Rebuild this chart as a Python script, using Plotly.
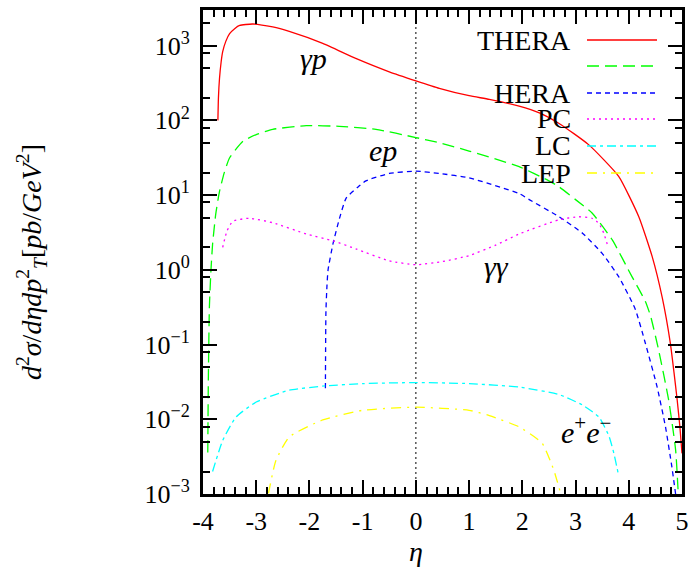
import plotly.graph_objects as go

# ---------------- data ----------------
thera_eta = [-3.72, -3.71, -3.69, -3.66, -3.63, -3.57, -3.50, -3.40, -3.31, -3.07, -2.69, -2.38,
             -1.75, -1.13, -0.5, 0.0, 0.44, 1.0, 1.38, 1.94, 2.32, 2.69, 3.25, 3.81, 4.19,
             4.44, 4.63, 4.78, 4.85, 4.91, 4.96, 5.0]
thera_val = [100, 200, 363, 600, 832, 1150, 1445, 1700, 1862, 1950, 1778, 1549,
             1072, 676, 447, 339, 269, 214, 191, 155, 126, 91, 47, 17.8, 5.1,
             1.5, 0.42, 0.105, 0.042, 0.018, 0.008, 0.0035]

ep_eta = [-3.91, -3.90, -3.88, -3.85, -3.82, -3.76, -3.69, -3.60, -3.50, -3.25, -3.0, -2.69,
          -2.06, -1.44, -0.75, 0.0, 0.44, 1.0, 1.94, 2.5, 2.69, 3.0, 3.31, 3.69, 4.06, 4.31,
          4.41, 4.56, 4.75, 4.88, 4.93]
ep_val = [0.0036, 0.032, 0.32, 1.0, 2.2, 5.6, 11.2, 20, 31.6, 52.5, 64.6, 75.9,
          85.1, 83.2, 75.9, 58.9, 50.1, 38.9, 24.0, 15.5, 12.9, 8.7, 5.75, 2.51, 0.81, 0.38,
          0.24, 0.085, 0.018, 0.0039, 0.001]

hera_eta = [-1.70, -1.69, -1.67, -1.65, -1.56, -1.45, -1.31, -1.10, -0.94, -0.5, 0.0, 0.44,
            1.0, 1.94, 2.13, 2.69, 3.13, 3.50, 3.81, 4.12, 4.31, 4.53, 4.69, 4.81, 4.88]
hera_val = [0.026, 0.28, 0.63, 1.0, 2.19, 4.47, 9.12, 12.6, 15.5, 19.5, 20.9, 19.5,
            17.0, 10.5, 8.7, 5.13, 3.09, 1.66, 0.81, 0.30, 0.105, 0.0275, 0.0079, 0.0023, 0.001]

pc_eta = [-3.63, -3.55, -3.44, -3.13, -2.69, -2.06, -1.56, -1.13, -0.5, 0.0, 0.5, 1.0,
          1.5, 1.94, 2.69, 3.06, 3.31, 3.44, 3.53, 3.61]
pc_val = [2.0, 3.3, 4.47, 4.9, 4.27, 3.02, 2.45, 1.91, 1.32, 1.17, 1.29, 1.55,
          2.14, 3.02, 4.68, 5.13, 4.9, 4.17, 3.09, 2.04]

lc_eta = [-3.82, -3.63, -3.38, -3.0, -2.38, -1.69, -1.0, 0.0, 1.0, 1.94, 2.69, 3.13,
          3.44, 3.63, 3.72, 3.80]
lc_val = [0.0020, 0.0052, 0.0107, 0.017, 0.0245, 0.028, 0.030, 0.031, 0.030, 0.027, 0.0214, 0.0155,
          0.0107, 0.0059, 0.0035, 0.0019]

lep_eta = [-2.77, -2.63, -2.38, -1.75, -1.0, 0.0, 1.0, 1.38, 1.94, 2.37, 2.59, 2.72]
lep_val = [0.00102, 0.0028, 0.0058, 0.0098, 0.0132, 0.0145, 0.0132, 0.0112, 0.0079, 0.0048,
           0.0021, 0.00102]

legend_names = ["THERA", "", "HERA", "PC", "LC", "LEP"]
x_tick_vals = [-4, -3, -2, -1, 0, 1, 2, 3, 4, 5]
x_tick_text = ["-4", "-3", "-2", "-1", "0", "1", "2", "3", "4", "5"]
y_tick_vals = [1e-3, 1e-2, 1e-1, 1e0, 1e1, 1e2, 1e3]
y_tick_text = ["10<sup>−3</sup>", "10<sup>−2</sup>", "10<sup>−1</sup>", "10<sup>0</sup>",
               "10<sup>1</sup>", "10<sup>2</sup>", "10<sup>3</sup>"]
y_minor_vals = [m * 10 ** k for k in range(-3, 4) for m in (2, 5, 8) if m * 10 ** k <= 3000]

# ---------------- styles ----------------
FONT = "Liberation Serif"
series = [
    (thera_eta, thera_val, "#ff0000", "solid"),
    (ep_eta, ep_val, "#00ff00", "12px,6px"),
    (hera_eta, hera_val, "#0000ff", "5px,4px"),
    (pc_eta, pc_val, "#ff00ff", "2px,4px"),
    (lc_eta, lc_val, "#00ffff", "9px,4px,3px,4px"),
    (lep_eta, lep_val, "#ffff00", "10px,6px,2px,6px"),
]

fig = go.Figure()
for (xs, ys, col, dash), name in zip(series, legend_names):
    fig.add_trace(go.Scatter(x=xs, y=ys, mode="lines", name=name, showlegend=False,
                             line=dict(color=col, width=1.3, dash=dash, shape="spline",
                                       smoothing=0.5)))

# plot-area geometry (pixels)
W, H = 689, 571
L, R, T, B = 203, 7, 10, 77
PW, PH = W - L - R, H - T - B


def px(xp):
    return (xp - L) / PW


def py(yp):
    return (H - B - yp) / PH


# vertical dotted line at eta = 0
fig.add_shape(type="line", xref="x", yref="paper", x0=0, x1=0, y0=0, y1=1,
              line=dict(color="black", width=1, dash="2px,3px"), layer="below")

# manual gnuplot-style key: text on the left, sample on the right
row_y = [40, 66, 93, 119, 146, 173]
for (xs, ys, col, dash), name, yy in zip(series, legend_names, row_y):
    if name:
        fig.add_annotation(xref="paper", yref="paper", x=px(573), y=py(yy), text=name,
                           showarrow=False, xanchor="right", yanchor="middle",
                           font=dict(family=FONT, size=28, color="black"))
    fig.add_shape(type="line", xref="paper", yref="paper", x0=px(587), x1=px(657),
                  y0=py(yy), y1=py(yy), line=dict(color=col, width=1.3, dash=dash))

# curve labels
labels = [("<i>γp</i>", 313, 58), ("<i>ep</i>", 383, 150), ("<i>γγ</i>", 496, 266),
          ("<i>e</i><sup>+</sup><i>e</i><sup>−</sup>", 586, 430)]
for txt, xx, yy in labels:
    fig.add_annotation(xref="paper", yref="paper", x=px(xx), y=py(yy), text=txt,
                       showarrow=False, xanchor="center", yanchor="middle",
                       font=dict(family=FONT, size=30, color="black"))

# axis titles
fig.add_annotation(xref="paper", yref="paper", x=px(416), y=py(551), text="<i>η</i>",
                   showarrow=False, xanchor="center", yanchor="middle",
                   font=dict(family=FONT, size=28, color="black"))
fig.add_annotation(xref="paper", yref="paper", x=px(31), y=py(262),
                   text="<i>d</i><sup>2</sup><i>σ</i>/<i>dηdp</i><sup>2</sup><sub><i>T</i></sub>"
                        "[<i>pb</i>/<i>GeV</i><sup>2</sup>]",
                   textangle=-90, showarrow=False, xanchor="center", yanchor="middle",
                   font=dict(family=FONT, size=28, color="black"))

axis_common = dict(showline=True, linewidth=3, linecolor="black", mirror="ticks",
                   ticks="inside", ticklen=14, tickwidth=2, tickcolor="black",
                   showgrid=False, zeroline=False,
                   tickfont=dict(family=FONT, size=26, color="black"))

fig.update_xaxes(range=[-4, 5], tickmode="array", tickvals=x_tick_vals, ticktext=x_tick_text,
                 minor=dict(ticks="inside", ticklen=7, tickwidth=2, tickcolor="black",
                            dtick=0.2, tick0=0, showgrid=False),
                 ticklabelstandoff=2, **axis_common)
fig.update_yaxes(type="log", range=[-3, 3.4771], tickmode="array", tickvals=y_tick_vals,
                 ticktext=y_tick_text,
                 minor=dict(ticks="inside", ticklen=7, tickwidth=2, tickcolor="black",
                            tickmode="array", tickvals=y_minor_vals, showgrid=False),
                 ticklabelstandoff=5, **axis_common)

fig.update_layout(width=W, height=H, margin=dict(l=L, r=R, t=T, b=B, autoexpand=False),
                  plot_bgcolor="white", paper_bgcolor="white", showlegend=False)

fig.write_html("out.html", config={"displayModeBar": False},
               post_script="document.body.style.margin='0';document.body.style.overflow='hidden';")
